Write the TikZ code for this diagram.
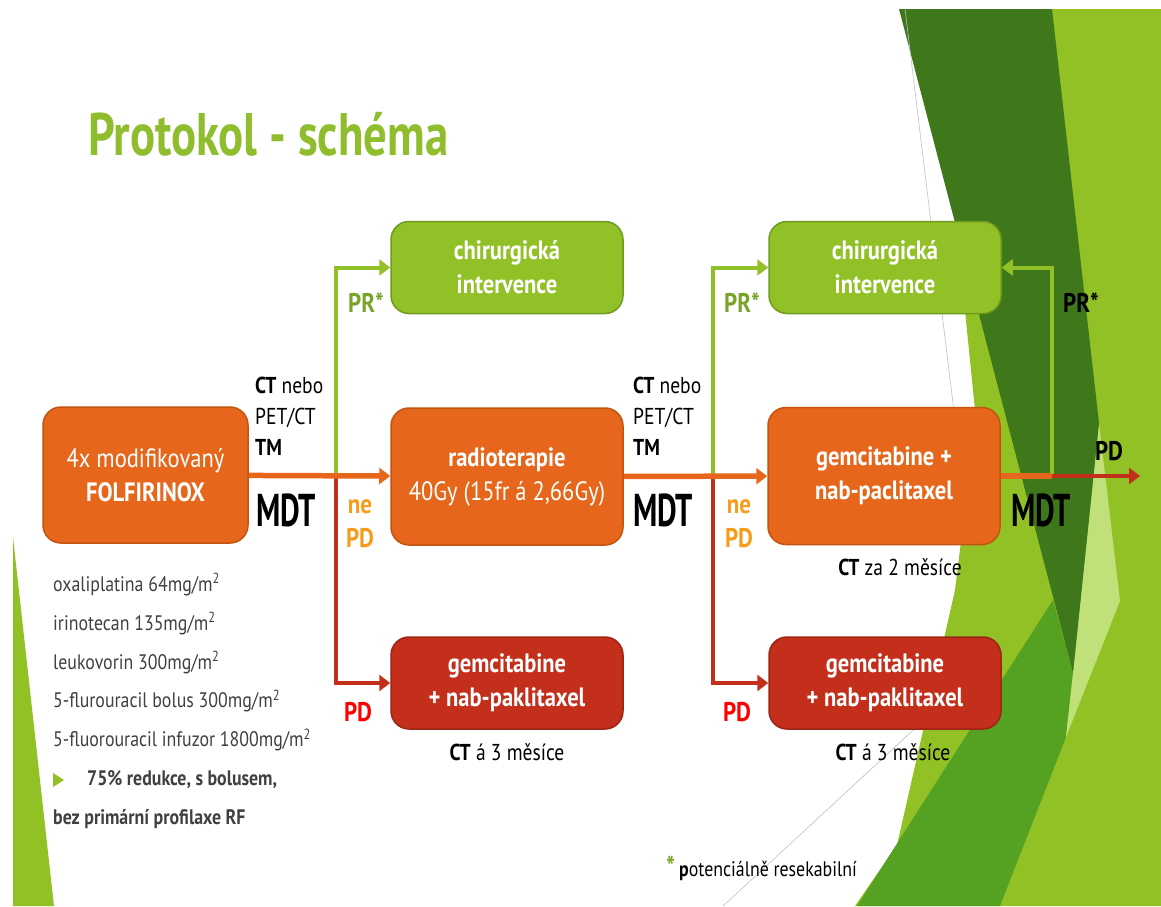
\documentclass[tikz,border=0pt]{standalone}
\usepackage{fontspec}
\setmainfont[FakeStretch=0.85]{PT Sans}
\newfontfamily\mdtfont[FakeStretch=0.66]{PT Sans}
\newfontfamily\titlefont[FakeStretch=0.78]{PT Sans}
\usepackage{tikz}
\usetikzlibrary{arrows.meta,positioning,shapes.geometric}

\definecolor{boxorange}{HTML}{E6671C}
\definecolor{boxorangeline}{HTML}{C2540F}
\definecolor{boxgreen}{HTML}{92C127}
\definecolor{boxgreenline}{HTML}{6F9B1E}
\definecolor{boxred}{HTML}{C32F1A}
\definecolor{boxredline}{HTML}{9C2514}
\definecolor{titlegreen}{HTML}{90BD2D}
\definecolor{prgreen}{HTML}{78A42A}
\definecolor{neorange}{HTML}{F79C1A}
\definecolor{listgray}{HTML}{404040}
\definecolor{bgdark}{HTML}{3F781A}
\definecolor{bgmid}{HTML}{92C125}
\definecolor{bgmedium}{HTML}{55A122}
\definecolor{bglight}{HTML}{C0E17A}

\begin{document}
\begin{tikzpicture}[x=1pt,y=-1pt]
			\tikzstyle{Box}		= [rounded corners=18pt, line width=1.5pt, text=white, align=center, inner sep=0pt, font=\fontsize{26.5}{34}\selectfont]
			\tikzstyle{OB}		= [fill=boxorange, draw=boxorangeline]
			\tikzstyle{GB}		= [fill=boxgreen, draw=boxgreenline]
			\tikzstyle{RB}		= [fill=boxred, draw=boxredline]
			\tikzstyle{Tall}	= [minimum width=232pt, minimum height=137pt]
			\tikzstyle{Flat}	= [minimum width=232pt, minimum height=92pt]
			\tikzstyle{Small}	= [inner sep=0pt, font=\fontsize{23}{31}\selectfont]
			\tikzstyle{Tag}		= [inner sep=0pt, align=center, font=\fontsize{27}{34}\selectfont\bfseries]
			\tikzstyle{MDT}		= [inner sep=0pt, font=\fontsize{46}{50}\selectfont\mdtfont\bfseries]
			\tikzstyle{OL}		= [line width=5.5pt, boxorange]
			\tikzstyle{GL}		= [line width=4pt, boxgreen]
			\tikzstyle{RL}		= [line width=4.5pt, boxred]
			\tikzstyle{Tip}		= [-{Triangle[length=11pt,width=16pt]}]

			\useasboundingbox (0,0) rectangle (1161,906);

			% slide background
			\fill[bgmid] (957,231) -- (976,420) -- (955,590) -- (897,845) -- (855,906) -- (1161,906) -- (1161,9) -- (1000,9) -- cycle;
			\fill[bgmedium] (1053,600) -- (1073,673) -- (1066,737) -- (1000,906) -- (857,906) -- cycle;
			\fill[bglight] (1099,423) -- (1120,601) -- (1066,737) -- (1073,673) -- cycle;
			\fill[bgdark] (899,9) -- (1052,9) -- (1099,423) -- (1073,673) -- cycle;
			\fill[bgmid] (13,537) -- (54,906) -- (13,906) -- cycle;
			\draw[black!25, line width=0.6pt] (905,9) -- (955,420);
			\draw[black!25, line width=0.6pt] (922,722) -- (723,906);

			\node (title) at (88,134) [anchor=west, inner sep=0pt, text=titlegreen, font=\fontsize{60}{62}\selectfont\titlefont\bfseries] {Protokol - schéma};

			% boxes
			\node (fx) at (145.5,475) [Box][OB][minimum width=205pt, minimum height=136pt] {4x modifikovaný\\\textbf{FOLFIRINOX}};
			\node (chir1) at (507,267.5) [Box][GB][Flat] {\textbf{chirurgická}\\\textbf{intervence}};
			\node (radio) at (507,476.5) [Box][OB][Tall] {\textbf{radioterapie}\\40Gy (15fr á 2,66Gy)};
			\node (gem1) at (507,683) [Box][RB][Flat] {\textbf{gemcitabine}\\\textbf{+ nab-paklitaxel}};
			\node (chir2) at (885,267.5) [Box][GB][Flat] {\textbf{chirurgická}\\\textbf{intervence}};
			\node (gem2) at (884,476) [Box][OB][Tall] {\textbf{gemcitabine +}\\\textbf{nab-paclitaxel}};
			\node (gem3) at (885,683) [Box][RB][Flat] {\textbf{gemcitabine}\\\textbf{+ nab-paklitaxel}};

			\coordinate (j1) at (336,476);
			\coordinate (j2) at (713,476);
			\coordinate (j3) at (1052,476);
			\coordinate (pdend) at (1140,476);

			% connectors
			\draw [Tip] (j1) |- (chir1) [GL];
			\draw [Tip] (j1) |- (gem1) [RL];
			\draw [Tip] (j2) |- (chir2) [GL];
			\draw [Tip] (j2) |- (gem3) [RL];
			\draw [Tip] (j3) |- (chir2) [GL];
			\draw [Tip] (j3) -- (pdend) [RL];
			\draw [Tip] (fx) -- (radio) [OL];
			\draw [Tip] (radio) -- (gem2) [OL];
			\draw [-] (gem2) -- (j3) [OL];

			% labels
			\node (ct1) at (255,416) [Small][anchor=west, align=left] {\textbf{CT} nebo\\PET/CT\\\textbf{TM}};
			\node (ct2) at (633,416) [Small][anchor=west, align=left] {\textbf{CT} nebo\\PET/CT\\\textbf{TM}};
			\node (mdt1) at (286,510) [MDT] {MDT};
			\node (mdt2) at (663,510) [MDT] {MDT};
			\node (mdt3) at (1041,510) [MDT] {MDT};
			\node (ne1) at (360,524) [Tag][text=neorange] {ne\\PD};
			\node (ne2) at (739,524) [Tag][text=neorange] {ne\\PD};
			\node (pr1) at (366,303) [Tag][text=prgreen] {PR*};
			\node (pr2) at (742,303) [Tag][text=prgreen] {PR*};
			\node (pr3) at (1081,303) [Tag] {PR*};
			\node (pd1) at (358,712) [Tag][text=red] {PD};
			\node (pd2) at (737,712) [Tag][text=red] {PD};
			\node (pd3) at (1109,451) [Tag] {PD};
			\node (ctza) at (900,567) [Small] {\textbf{CT} za 2 měsíce};
			\node (cta1) at (507,752) [Small] {\textbf{CT} á 3 měsíce};
			\node (cta2) at (893,752) [Small] {\textbf{CT} á 3 měsíce};

			% dosage list
			\node (dose) at (53,701) [anchor=west, inner sep=0pt, align=left, text=listgray, font=\fontsize{21}{38.9}\selectfont] {oxaliplatina 64mg/m\textsuperscript{2}\\irinotecan 135mg/m\textsuperscript{2}\\leukovorin 300mg/m\textsuperscript{2}\\5-flurouracil bolus 300mg/m\textsuperscript{2}\\5-fluorouracil infuzor 1800mg/m\textsuperscript{2}\\\hspace*{34pt}\textbf{75\% redukce, s bolusem,}\\\textbf{bez primární profilaxe RF}};
			\fill[bgmid] (53,773) -- (64,780) -- (53,787) -- cycle;

			\node (note) at (666,868) [anchor=west, inner sep=0pt, font=\fontsize{21}{24}\selectfont] {\textcolor{prgreen}{\fontsize{28}{28}\selectfont\textbf{*}}\hspace{4pt}\textbf{p}otenciálně resekabilní};
		\end{tikzpicture}
\end{document}
